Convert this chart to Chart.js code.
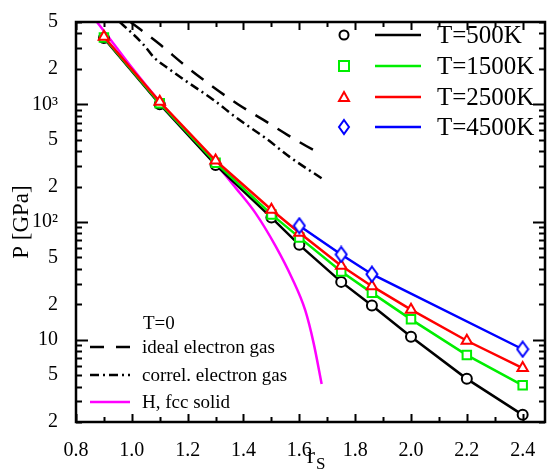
<!DOCTYPE html>
<html>
<head>
<meta charset="utf-8">
<script src="https://cdn.jsdelivr.net/npm/chart.js@4.4.0/dist/chart.umd.min.js"></script>
<style>
  body { margin: 0; background: #fff; }
  #wrap { width: 553px; height: 474px; }
</style>
</head>
<body>
<div id="wrap"><canvas id="chart"></canvas></div>
<script>
// r_s values and pressures (GPa)
var rsT = [0.9, 1.1, 1.3, 1.5, 1.6, 1.75, 1.86, 2.0, 2.2, 2.4]
var p500 = [3650, 1000, 305, 109, 64, 31, 19.5, 10.6, 4.65, 2.3]
var p1500 = [3700, 1020, 319, 116, 74, 38, 25, 14.9, 7.4, 4.1]
var p2500 = [3750, 1050, 333, 127, 81, 42.5, 28.5, 18, 9.8, 5.75]
var rs4500 = [1.6, 1.75, 1.86, 2.4]
var p4500 = [93, 53, 36, 8.3]

var rsIdeal = [0.995, 1.1, 1.19, 1.29, 1.38, 1.47, 1.56, 1.66, 1.68]
var pIdeal = [5000, 3230, 2140, 1410, 1000, 740, 545, 400, 385]
var rsCorrel = [0.957, 1.04, 1.08, 1.13, 1.2, 1.29, 1.38, 1.48, 1.57, 1.68]
var pCorrel = [5000, 3250, 2490, 2020, 1540, 1100, 752, 514, 351, 235]
var rsFcc = [0.875, 0.9, 1.0, 1.1, 1.2, 1.3, 1.372, 1.443, 1.514, 1.573, 1.621, 1.651, 1.68]
var pFcc = [5000, 4200, 2050, 1050, 570, 315, 195, 119, 63, 33.6, 17.8, 9.4, 4.2]

var xTicks = [0.8, 1.0, 1.2, 1.4, 1.6, 1.8, 2.0, 2.2, 2.4]
var yTicks = [2, 5, 10, 20, 50, 100, 200, 500, 1000, 2000, 5000]

var serif = "'Liberation Serif', 'Times New Roman', serif"

// tall blue diamond marker
var diamond = document.createElement('canvas')
diamond.width = 14
diamond.height = 18
;(function () {
    var c = diamond.getContext('2d')
    c.strokeStyle = '#0000ff'
    c.fillStyle = '#fff'
    c.lineWidth = 2
    c.beginPath()
    c.moveTo(7, 1.5); c.lineTo(12.5, 9); c.lineTo(7, 16.5); c.lineTo(1.5, 9); c.closePath()
    c.fill(); c.stroke()
})()

function pts(xs, ys) {
    return xs.map(function (x, i) { return { x: x, y: ys[i] } })
}

function tempSet(label, color, style, xs, ys, order) {
    return {
        label: label,
        data: pts(xs, ys),
        borderColor: color,
        backgroundColor: '#fff',
        borderWidth: 2.5,
        pointStyle: style,
        pointRadius: style == 'circle' ? 5 : 6,
        pointBorderWidth: 2,
        pointBackgroundColor: '#fff',
        order: order,
        legendGroup: 'T'
    }
}

function zeroSet(label, color, dash, xs, ys) {
    return {
        label: label,
        data: pts(xs, ys),
        borderColor: color,
        borderWidth: 2.5,
        borderDash: dash,
        pointRadius: 0,
        cubicInterpolationMode: 'monotone',
        order: 6,
        legendGroup: 'T0'
    }
}

var datasets = [
    tempSet('T=500K', '#000000', 'circle', rsT, p500, 4),
    tempSet('T=1500K', '#00ee00', 'rect', rsT, p1500, 3),
    tempSet('T=2500K', '#ff0000', 'triangle', rsT, p2500, 2),
    tempSet('T=4500K', '#0000ff', diamond, rs4500, p4500, 1),
    zeroSet('ideal electron gas', '#000000', [15, 11], rsIdeal, pIdeal),
    zeroSet('correl. electron gas', '#000000', [9, 4, 2, 4], rsCorrel, pCorrel),
    zeroSet('H, fcc solid', '#ff00ff', [], rsFcc, pFcc)
]

// frame, inward ticks on all four sides, legends and r_S label
var decorations = {
    id: 'decorations',
    afterDraw: function (chart) {
        var ctx = chart.ctx
        var a = chart.chartArea
        var xs = chart.scales.x
        var ys = chart.scales.y
        ctx.save()
        ctx.strokeStyle = '#000'
        ctx.lineWidth = 2

        // x ticks, bottom and top
        for (var k = 8; k <= 24; k++) {
            var px = Math.round(xs.getPixelForValue(k / 10)) + 0.5
            var len = k % 2 == 0 ? 8 : 5
            ctx.beginPath()
            ctx.moveTo(px, a.bottom); ctx.lineTo(px, a.bottom - len)
            ctx.moveTo(px, a.top); ctx.lineTo(px, a.top + len)
            ctx.stroke()
        }
        // y ticks, left and right
        for (var e = 0; e <= 3; e++) {
            for (var m = 1; m <= 9; m++) {
                var val = m * Math.pow(10, e)
                if (val < 2 || val > 5000) continue
                var py = Math.round(ys.getPixelForValue(val)) + 0.5
                var l = m == 1 ? 12 : 6
                ctx.beginPath()
                ctx.moveTo(a.left, py); ctx.lineTo(a.left + l, py)
                ctx.moveTo(a.right, py); ctx.lineTo(a.right - l, py)
                ctx.stroke()
            }
        }
        // frame
        ctx.lineWidth = 2.5
        ctx.strokeRect(a.left, a.top, a.right - a.left, a.bottom - a.top)

        // legends
        ctx.textBaseline = 'middle'
        ctx.textAlign = 'left'
        var rowsT = [35, 66, 97, 127]
        var rowsZ = [347, 375, 402]
        var iT = 0, iZ = 0
        chart.data.datasets.forEach(function (ds) {
            if (ds.legendGroup == 'T') {
                var y = rowsT[iT++]
                ctx.strokeStyle = ds.borderColor
                ctx.fillStyle = '#fff'
                ctx.lineWidth = 2
                ctx.beginPath()
                if (ds.pointStyle == 'circle') ctx.arc(344, y, 4.5, 0, Math.PI * 2)
                else if (ds.pointStyle == 'rect') ctx.rect(339, y - 5, 10, 10)
                else if (ds.pointStyle == 'triangle') { ctx.moveTo(344, y - 5); ctx.lineTo(349, y + 4); ctx.lineTo(339, y + 4); ctx.closePath() }
                else { ctx.moveTo(344, y - 7); ctx.lineTo(349, y); ctx.lineTo(344, y + 7); ctx.lineTo(339, y); ctx.closePath() }
                ctx.fill(); ctx.stroke()
                ctx.lineWidth = 2.5
                ctx.beginPath(); ctx.moveTo(375, y); ctx.lineTo(421, y); ctx.stroke()
                ctx.fillStyle = '#000'
                ctx.font = '25px ' + serif
                ctx.fillText(ds.label, 437, y + 1)
            } else {
                var y2 = rowsZ[iZ++]
                ctx.strokeStyle = ds.borderColor
                ctx.lineWidth = 2.5
                var dash = ds.borderDash.length == 2 ? [14, 12] : ds.borderDash
                ctx.setLineDash(dash)
                ctx.beginPath(); ctx.moveTo(90, y2); ctx.lineTo(130, y2); ctx.stroke()
                ctx.setLineDash([])
                ctx.fillStyle = '#000'
                ctx.font = '19px ' + serif
                ctx.fillText(ds.label, 142, y2 + 1)
            }
        })
        ctx.font = '19px ' + serif
        ctx.fillText('T=0', 143, 324)

        // x axis title r_S
        ctx.font = '24px ' + serif
        ctx.textBaseline = 'alphabetic'
        ctx.fillText('r', 307, 463)
        ctx.font = '17px ' + serif
        ctx.fillText('S', 316, 469)
        ctx.restore()
    }
}

var chart = new Chart(document.getElementById('chart'), {
    type: 'line',
    data: { datasets: datasets },
    options: {
        responsive: true,
        maintainAspectRatio: false,
        animation: false,
        layout: { padding: { top: 10, right: 4, left: 0, bottom: 0 } },
        plugins: { legend: { display: false }, tooltip: { enabled: false } },
        scales: {
            x: {
                type: 'linear',
                min: 0.8,
                max: 2.48,
                grid: { display: false },
                border: { display: false },
                afterBuildTicks: function (s) { s.ticks = xTicks.map(function (v) { return { value: v } }) },
                afterFit: function (s) { s.height = 52 },
                ticks: {
                    padding: 9,
                    color: '#000',
                    font: { family: serif, size: 20 },
                    callback: function (v) { return v.toFixed(1) }
                }
            },
            y: {
                type: 'logarithmic',
                min: 2,
                max: 5000,
                grid: { display: false },
                border: { display: false },
                afterBuildTicks: function (s) { s.ticks = yTicks.map(function (v) { return { value: v } }) },
                afterFit: function (s) { s.width = 76 },
                ticks: {
                    padding: 10,
                    color: '#000',
                    font: { family: serif, size: 20 },
                    callback: function (v) {
                        if (v == 10) return '10'
                        if (v == 100) return '10²'
                        if (v == 1000) return '10³'
                        return String(v).charAt(0)
                    }
                },
                title: {
                    display: true,
                    text: 'P [GPa]',
                    color: '#000',
                    font: { family: serif, size: 23 },
                    padding: { top: 8, bottom: 0 }
                }
            }
        }
    },
    plugins: [decorations]
})
</script>
</body>
</html>
